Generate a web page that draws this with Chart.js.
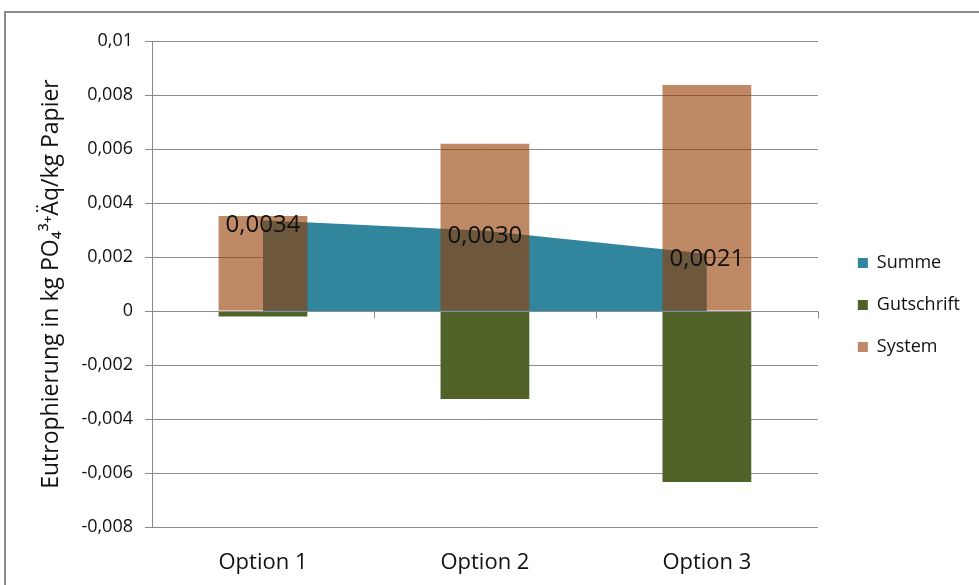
<!DOCTYPE html>
<html>
<head>
<meta charset="utf-8">
<script src="https://cdn.jsdelivr.net/npm/chart.js@4"></script>
<style>
    html, body { margin: 0; padding: 0; background: #fff; overflow: hidden; }
    #frame {
        position: absolute; left: 4px; top: 11px; width: 1000px; height: 600px;
        border-left: 2px solid #8a8a8a; border-top: 2px solid #8a8a8a;
    }
    #wrap { position: absolute; left: 0; top: 0; width: 979px; height: 585px; }
</style>
</head>
<body>
<div id="frame"></div>
<div id="wrap"><canvas id="eutroChart"></canvas></div>
<script>
// ===========================
// Eutrophierung: Summe / Gutschrift / System
// ===========================

const categories = ['Option 1', 'Option 2', 'Option 3'];
const summeValues = [0.00336, 0.00297, 0.00212];
const gutschriftValues = [-0.0002, -0.00326, -0.00633];
const systemValues = [0.00352, 0.00619, 0.00837];
const yTicks = [-0.008, -0.006, -0.004, -0.002, 0, 0.002, 0.004, 0.006, 0.008, 0.01];

const FONT = "'Open Sans', 'DejaVu Sans', sans-serif";
const GRID = '#8c8c8c';

// German number format (comma decimal)
function fmt(v, digits) {
    return Number(v.toFixed(digits)).toString().replace('.', ',');
}

// Value labels on the Summe area
const summeLabels = {
    id: 'summeLabels',
    afterDatasetsDraw(chart) {
        const ctx = chart.ctx;
        const meta = chart.getDatasetMeta(0);
        ctx.save();
        ctx.font = '24px ' + FONT;
        ctx.fillStyle = '#111';
        ctx.textAlign = 'center';
        ctx.textBaseline = 'middle';
        meta.data.forEach((pt, i) => {
            ctx.fillText(summeValues[i].toFixed(4).replace('.', ','), pt.x, pt.y + 5);
        });
        ctx.restore();
    }
};

// Horizontal category axis sitting on zero, drawn above the marks
const zeroAxis = {
    id: 'zeroAxis',
    afterDatasetsDraw(chart) {
        const ctx = chart.ctx;
        const x = chart.scales.x;
        const y0 = Math.round(chart.scales.y.getPixelForValue(0)) + 0.5;
        ctx.save();
        ctx.strokeStyle = GRID;
        ctx.lineWidth = 1;
        ctx.beginPath();
        ctx.moveTo(x.left, y0);
        ctx.lineTo(x.right, y0);
        for (let i = 0; i <= categories.length; i++) {
            const px = Math.round(x.left + i * x.width / categories.length) + 0.5;
            ctx.moveTo(px, y0);
            ctx.lineTo(px, y0 + 7);
        }
        ctx.stroke();
        ctx.restore();
    }
};

new Chart(document.getElementById('eutroChart'), {
    data: {
        labels: categories,
        datasets: [{
            type: 'line',
            label: 'Summe',
            data: summeValues,
            backgroundColor: '#31859c',
            borderColor: '#31859c',
            borderWidth: 0,
            pointRadius: 0,
            fill: 'origin',
            tension: 0,
            order: 3
        }, {
            type: 'bar',
            label: 'Gutschrift',
            data: gutschriftValues,
            backgroundColor: '#4f6228',
            grouped: false,
            categoryPercentage: 1,
            barPercentage: 0.4,
            order: 1
        }, {
            type: 'bar',
            label: 'System',
            data: systemValues,
            backgroundColor: 'rgba(150, 58, 0, 0.6)',
            grouped: false,
            categoryPercentage: 1,
            barPercentage: 0.4,
            order: 1
        }]
    },
    options: {
        responsive: true,
        maintainAspectRatio: false,
        animation: false,
        layout: { padding: { left: 0, top: 41, right: 9, bottom: 0 } },
        plugins: {
            tooltip: { enabled: false },
            legend: {
                position: 'right',
                fullSize: false,
                // empty title only used to push the items down a bit
                title: { display: true, text: ' ', font: { size: 10 }, padding: { top: 13, bottom: 17 } },
                labels: {
                    boxWidth: 10,
                    boxHeight: 10,
                    padding: 24,
                    color: '#111',
                    font: { family: FONT, size: 18 },
                    sort: (a, b) => a.datasetIndex - b.datasetIndex
                }
            }
        },
        scales: {
            x: {
                grid: { display: false, drawTicks: false },
                border: { display: false },
                ticks: { color: '#111', padding: 23, font: { family: FONT, size: 22 } },
                afterFit(scale) { scale.height = 58; }
            },
            y: {
                min: -0.008,
                max: 0.01,
                afterBuildTicks(scale) {
                    scale.ticks = yTicks.map(v => ({ value: v }));
                },
                grid: { color: GRID, tickLength: 7, tickColor: GRID },
                border: { color: GRID },
                ticks: {
                    color: '#111',
                    padding: 12,
                    font: { family: FONT, size: 18 },
                    callback: v => fmt(v, 3)
                },
                title: {
                    display: true,
                    text: 'Eutrophierung in kg PO₄³⁺Äq/kg Papier',
                    color: '#111',
                    font: { family: FONT, size: 23 },
                    padding: { top: 38, bottom: 0 }
                },
                afterFit(scale) { scale.width = 152; }
            },
            // spacer between plot and legend
            gap: {
                position: 'right',
                display: true,
                grid: { display: false },
                border: { display: false },
                ticks: { display: false },
                afterFit(scale) { scale.width = 16; }
            }
        }
    },
    plugins: [zeroAxis, summeLabels]
});
</script>
</body>
</html>
